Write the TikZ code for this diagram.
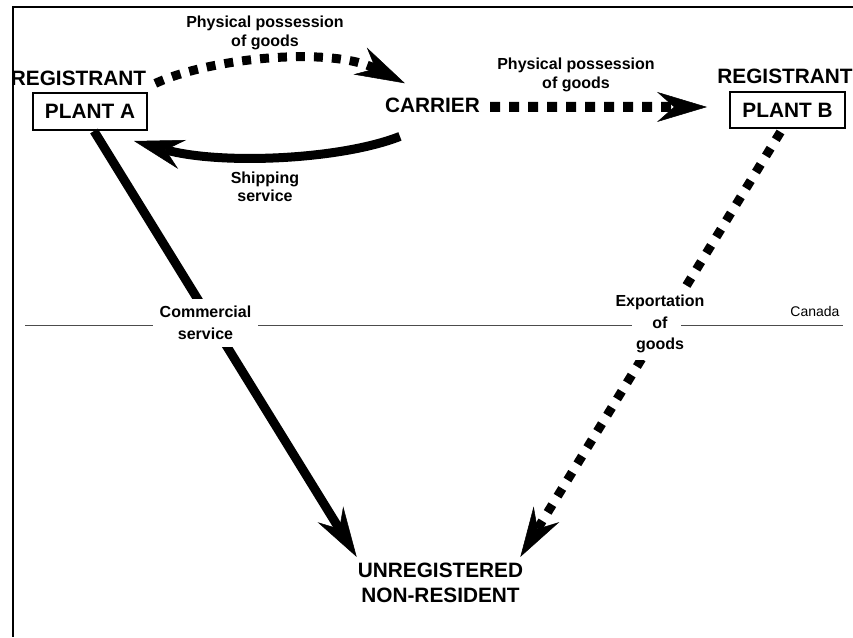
\documentclass[tikz,border=0pt]{standalone}
\usepackage{fontspec}
\setmainfont{Liberation Sans}
\usetikzlibrary{arrows.meta}
\tikzset{
  big/.style={font=\fontsize{20.8}{25}\selectfont\bfseries, inner sep=0pt},
  lbl/.style={font=\fontsize{16}{18.5}\selectfont\bfseries, align=center, inner sep=0pt},
  lbltall/.style={lbl, font=\fontsize{16}{21.5}\selectfont\bfseries},
  plantbox/.style={big, draw, line width=2pt, minimum width=114pt, minimum height=37pt},
  head/.style={-{Stealth[length=50pt,width=30pt,inset=17pt,line width=0.5pt]}},
  solidarrow/.style={head, line width=9pt},
  dotarrow/.style={head, line width=9pt, dash pattern=on 9pt off 9pt},
  cut/.style={fill=white, inner sep=7pt},
  canadaline/.style={draw=black!70, line width=1pt},
  frameline/.style={line width=2.4pt},
}
\begin{document}
\begin{tikzpicture}[x=1pt, y=-1pt]
\fill[white] (0,0) rectangle (853,637);
\useasboundingbox (0,0) rectangle (853,637);
% frame
\draw[frameline] (12,7) -- (853,7);
\draw[frameline] (13,6) -- (13,637);
% nodes
\node[big, anchor=base] (regA) at (78.5,85) {REGISTRANT};
\node[plantbox] (plantA) at (90,111.5) {PLANT A};
\node[big, anchor=base] (carrier) at (432.5,112) {CARRIER};
\node[big, anchor=base] (regB) at (785,83) {REGISTRANT};
\node[plantbox, minimum width=115pt, minimum height=36pt] (plantB) at (787.5,110) {PLANT B};
\node[big, align=center] (unreg) at (440.5,583) {UNREGISTERED\\NON-RESIDENT};
\node[lbl] (phys1) at (265,33) {Physical possession\\of goods};
\node[lbl] (phys2) at (576,75) {Physical possession\\of goods};
\node[lbl] (ship) at (265,187) {Shipping\\service};
\node[font=\fontsize{14}{16}\selectfont, inner sep=0pt] (canada) at (815,311) {Canada};
% connectors
\draw[dotarrow] ([shift={(9,-2)}]regA.south east) .. controls (210,58) and (330,46) .. ([shift={(20,-14)}]carrier.north west);
\draw[dotarrow, line width=10pt, dash pattern=on 10pt off 9pt] ([shift={(10,2)}]carrier.east) -- ([shift={(-22,-3)}]plantB.west);
\draw[solidarrow] ([shift={(15,24)}]carrier.south west) .. controls (340,160) and (220,165) .. ([shift={(-14,10)}]plantA.south east);
\draw[solidarrow] ([shift={(4,0)}]plantA.south) -- ([shift={(-1,-6)}]unreg.north west);
\draw[dotarrow, dash pattern=on 9pt off 10pt] ([shift={(-7,3)}]plantB.south) -- ([shift={(-3,-6)}]unreg.north east);
% labels on connectors
\node[lbltall, cut] (comm) at (205.5,323) {Commercial\\service};
\node[lbltall, cut] (export) at (660,324) {Exportation\\of\\goods};
% border line
\draw[canadaline] (25,325) -- (153,325);
\draw[canadaline] (258,325) -- (632,325);
\draw[canadaline] (681,325) -- (843,325);
\end{tikzpicture}
\end{document}
